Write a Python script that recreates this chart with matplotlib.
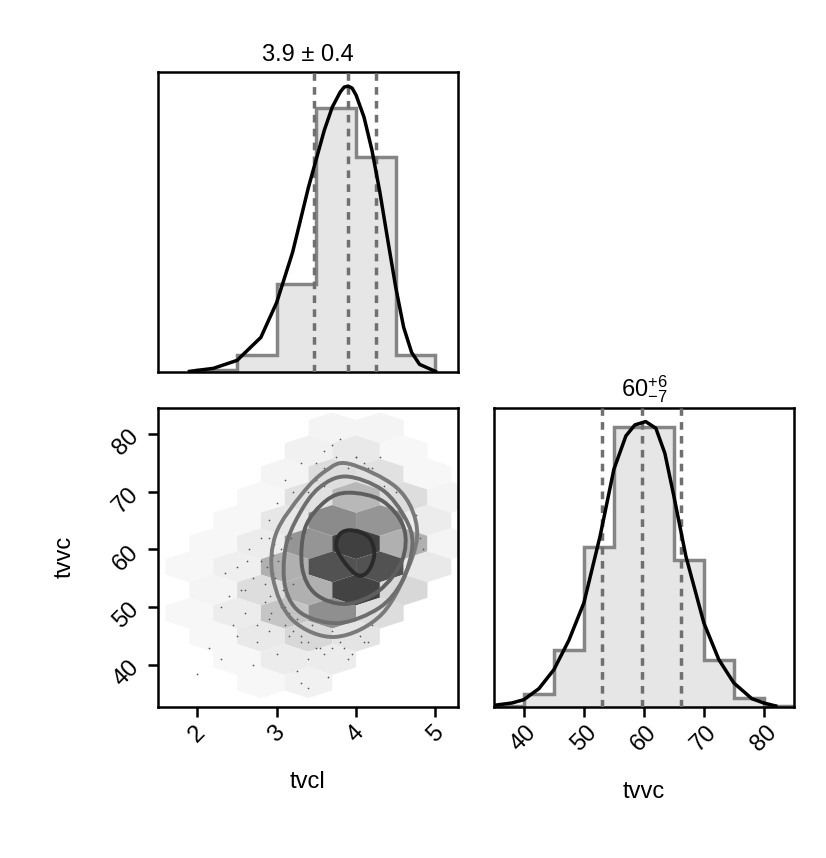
import numpy as np
import matplotlib.pyplot as plt
from matplotlib.patches import Polygon, PathPatch
from matplotlib.path import Path

plt.rcParams['font.family'] = 'Liberation Sans'
plt.rcParams['font.size'] = 17

# marginal histogram of tvcl
tvcl_edges = [2.0, 2.5, 3.0, 3.5, 4.0, 4.5, 5.0]
tvcl_counts = [2, 17, 88, 264, 215, 17]
tvcl_curve_x = [1.9, 2.2, 2.5, 2.8, 3.0, 3.2, 3.4, 3.6, 3.7, 3.8, 3.85, 3.9, 3.95, 4.0, 4.1,
                4.2, 4.3, 4.4, 4.5, 4.6, 4.7, 4.8, 5.0]
tvcl_curve_y = [1, 4, 12, 35, 70, 120, 185, 242, 265, 280, 285, 286, 284, 277, 255,
                222, 180, 132, 85, 45, 20, 8, 1]
tvcl_quant = [3.47, 3.9, 4.25]

# marginal histogram of tvvc
tvvc_edges = [35, 40, 45, 50, 55, 60, 65, 70, 75, 80, 85]
tvvc_counts = [2, 40, 170, 480, 840, 840, 440, 140, 27, 4]
tvvc_curve_x = [35, 38, 40, 42.5, 45, 47.5, 50, 52.7, 55, 57, 58.5, 60.3, 62, 63.5, 65, 67,
                70, 72.5, 75, 78, 80, 82]
tvvc_curve_y = [5, 12, 22, 55, 112, 200, 312, 512, 712, 812, 845, 855, 835, 760, 632, 452,
                252, 142, 72, 25, 12, 3]
tvvc_quant = [53.0, 59.7, 66.2]

# hexbin cells (x, y, shade 0..1)
hex_x = [3.7, 4.3,
         3.4, 4.0, 4.6,
         3.1, 3.7, 4.3, 4.9,
         2.8, 3.4, 4.0, 4.6, 5.2,
         2.5, 3.1, 3.7, 4.3, 4.9,
         2.2, 2.8, 3.4, 4.0, 4.6, 5.2,
         1.9, 2.5, 3.1, 3.7, 4.3, 4.9,
         2.2, 2.8, 3.4, 4.0, 4.6,
         1.9, 2.5, 3.1, 3.7, 4.3,
         2.2, 2.8, 3.4, 4.0,
         2.5, 3.1, 3.7,
         2.8, 3.4]
hex_y = [81, 81,
         77, 77, 77,
         73, 73, 73, 73,
         69, 69, 69, 69, 69,
         65, 65, 65, 65, 65,
         61, 61, 61, 61, 61, 61,
         57, 57, 57, 57, 57, 57,
         53, 53, 53, 53, 53,
         49, 49, 49, 49, 49,
         45, 45, 45, 45,
         41, 41, 41,
         37, 37]
hex_v = [0.03, 0.03,
         0.04, 0.07, 0.02,
         0.03, 0.12, 0.10, 0.02,
         0.02, 0.10, 0.28, 0.12, 0.03,
         0.02, 0.08, 0.50, 0.45, 0.06,
         0.02, 0.06, 0.45, 0.90, 0.32, 0.03,
         0.02, 0.05, 0.32, 0.80, 0.80, 0.07,
         0.03, 0.12, 0.32, 0.88, 0.14,
         0.02, 0.06, 0.22, 0.48, 0.12,
         0.02, 0.07, 0.14, 0.09,
         0.02, 0.06, 0.06,
         0.02, 0.04]

# density contours, outer to inner
contours = [
    ([3.91, 4.50, 4.75, 4.71, 4.33, 3.74, 3.20, 2.95, 2.99, 3.32, 3.62],
     [74.8, 70.8, 65.0, 58.7, 48.9, 44.9, 47.8, 55.2, 62.7, 69.6, 73.6]),
    ([3.87, 4.33, 4.62, 4.71, 4.58, 4.29, 3.79, 3.32, 3.11, 3.11, 3.28, 3.53],
     [72.6, 70.3, 65.4, 60.8, 54.5, 49.9, 47.3, 48.9, 53.3, 60.2, 66.0, 70.6]),
    ([3.91, 4.33, 4.60, 4.58, 4.29, 3.87, 3.49, 3.32, 3.36, 3.62],
     [69.8, 68.4, 63.8, 58.1, 52.9, 50.6, 52.3, 56.9, 63.8, 68.4]),
    ([3.95, 4.16, 4.23, 4.16, 4.03, 3.87, 3.75, 3.80],
     [63.3, 62.1, 59.3, 56.4, 55.5, 57.5, 60.4, 62.7]),
]
contour_colors = ['#7a7a7a', '#6e6e6e', '#5e5e5e', '#2a2a2a']

# scattered samples outside the contours
pts_x = [2.0, 2.15, 2.3, 2.45, 2.55, 2.6, 2.7, 2.75, 2.8, 2.85, 2.9, 2.95, 3.0, 3.05,
         2.5, 2.65, 2.8, 2.9, 3.0, 3.1, 3.15, 3.2, 3.25, 3.3, 3.35, 3.4, 3.45, 3.5,
         3.55, 3.6, 3.65, 3.7, 3.8, 3.9, 4.0, 4.1, 4.2, 3.5, 3.6, 3.7, 3.8, 3.9,
         4.0, 4.1, 4.2, 4.3, 4.4, 4.5, 2.9, 3.0, 3.1, 3.2, 3.3, 2.7, 2.4, 3.3, 3.4,
         2.85, 2.88, 2.92, 2.95, 2.98, 3.02, 3.05, 3.08, 2.9, 2.93, 2.97, 3.01,
         3.1, 3.15, 3.2, 3.25, 3.3, 3.4, 3.5, 3.6, 3.7, 3.85, 3.95, 4.05, 4.15,
         3.4, 3.5, 3.6, 3.75, 3.85, 4.0, 4.15, 4.25, 4.35, 4.6, 4.75, 4.8, 4.85,
         2.3, 2.6, 2.75, 3.12, 3.18, 3.22, 2.62, 2.5, 2.35]
pts_y = [38.5, 43, 41, 47, 53, 49, 55, 44, 58, 51, 46, 56, 52, 60,
         57, 60, 62, 48, 42, 50, 45, 54, 39, 44, 63, 41, 47, 67,
         43, 71, 38, 46, 44, 41, 46, 44, 47, 75, 77, 78, 79, 74,
         76, 75, 74, 76, 72, 70, 65, 68, 72, 70, 75, 40, 52, 37, 36,
         54, 57, 52, 59, 55, 58, 50, 53, 62, 49, 61, 64,
         47, 49, 46, 48, 45, 44, 43, 42, 43, 43, 42, 45, 44,
         70, 72, 74, 76, 75, 76, 74, 73, 71, 69, 66, 62, 60,
         50, 53, 47, 66, 62, 68, 58, 45, 56]

fig = plt.figure(figsize=(8.26, 8.58), dpi=100)
ax_top = fig.add_axes([0.191, 0.566, 0.363, 0.35])
ax_2d = fig.add_axes([0.191, 0.176, 0.363, 0.349])
ax_rt = fig.add_axes([0.598, 0.176, 0.363, 0.349])

xlim = (1.5, 5.28)
ylim = (32.8, 84.5)


def smooth_closed_path(xs, ys):
    # closed Catmull-Rom curve through the listed contour vertices
    p = np.column_stack([xs, ys])
    n = len(p)
    verts = [p[0]]
    codes = [Path.MOVETO]
    for i in range(n):
        p0, p1, p2, p3 = p[i - 1], p[i], p[(i + 1) % n], p[(i + 2) % n]
        verts += [p1 + (p2 - p0) / 6, p2 - (p3 - p1) / 6, p2]
        codes += [Path.CURVE4] * 3
    return Path(verts, codes)


def draw_hist(ax, edges, counts, cx, cy, quant):
    ax.stairs(counts, edges, fill=True, color='#e6e6e6', zorder=1)
    ax.stairs(counts, edges, color='#858585', lw=2.5, zorder=2)
    ax.plot(cx, cy, color='black', lw=2.5, zorder=4, solid_joinstyle='round')
    for q in quant:
        ax.axvline(q, color='#707070', lw=2.5, ls=(0, (2.2, 1.8)), zorder=3)
    ax.set_yticks([])


draw_hist(ax_top, tvcl_edges, tvcl_counts, tvcl_curve_x, tvcl_curve_y, tvcl_quant)
ax_top.set_xlim(xlim)
ax_top.set_ylim(0, 300)
ax_top.set_xticks([])
ax_top.set_title('3.9 ± 0.4', fontsize=17, pad=8)

draw_hist(ax_rt, tvvc_edges, tvvc_counts, tvvc_curve_x, tvvc_curve_y, tvvc_quant)
ax_rt.set_xlim(35, 85)
ax_rt.set_ylim(0, 897)
ax_rt.set_xticks([40, 50, 60, 70, 80])
ax_rt.set_title(r'$\mathregular{60^{+6}_{-7}}$', fontsize=17, pad=8)
ax_rt.set_xlabel('tvvc', labelpad=18)

# hex cells: matplotlib-hexbin shaped (width 0.6, vertical half-height 8/3)
for x, y, v in zip(hex_x, hex_y, hex_v):
    verts = [(x + 0.3, y - 4 / 3), (x + 0.3, y + 4 / 3), (x, y + 8 / 3),
             (x - 0.3, y + 4 / 3), (x - 0.3, y - 4 / 3), (x, y - 8 / 3)]
    g = 1 - 0.82 * v ** 0.85
    ax_2d.add_patch(Polygon(verts, closed=True, fc=(g, g, g), ec='none', zorder=1))
ax_2d.scatter(pts_x, pts_y, s=1.5, color='#555555', lw=0, zorder=2)
for (cx, cy), col in zip(contours, contour_colors):
    ax_2d.add_patch(PathPatch(smooth_closed_path(cx, cy), fill=False,
                              ec=col, lw=2.8, zorder=3))
ax_2d.set_xlim(xlim)
ax_2d.set_ylim(ylim)
ax_2d.set_xticks([2, 3, 4, 5])
ax_2d.set_yticks([40, 50, 60, 70, 80])
ax_2d.set_xlabel('tvcl', labelpad=18)
ax_2d.set_ylabel('tvvc', labelpad=24)

for ax in (ax_top, ax_2d, ax_rt):
    for s in ax.spines.values():
        s.set_linewidth(1.8)
    ax.tick_params(direction='out', length=7, width=1.8, labelsize=17)
    for lab in ax.get_xticklabels() + ax.get_yticklabels():
        lab.set_rotation(45)
    for lab in ax.get_xticklabels():
        lab.set_ha('center')

fig.savefig('out.png', dpi=100)
